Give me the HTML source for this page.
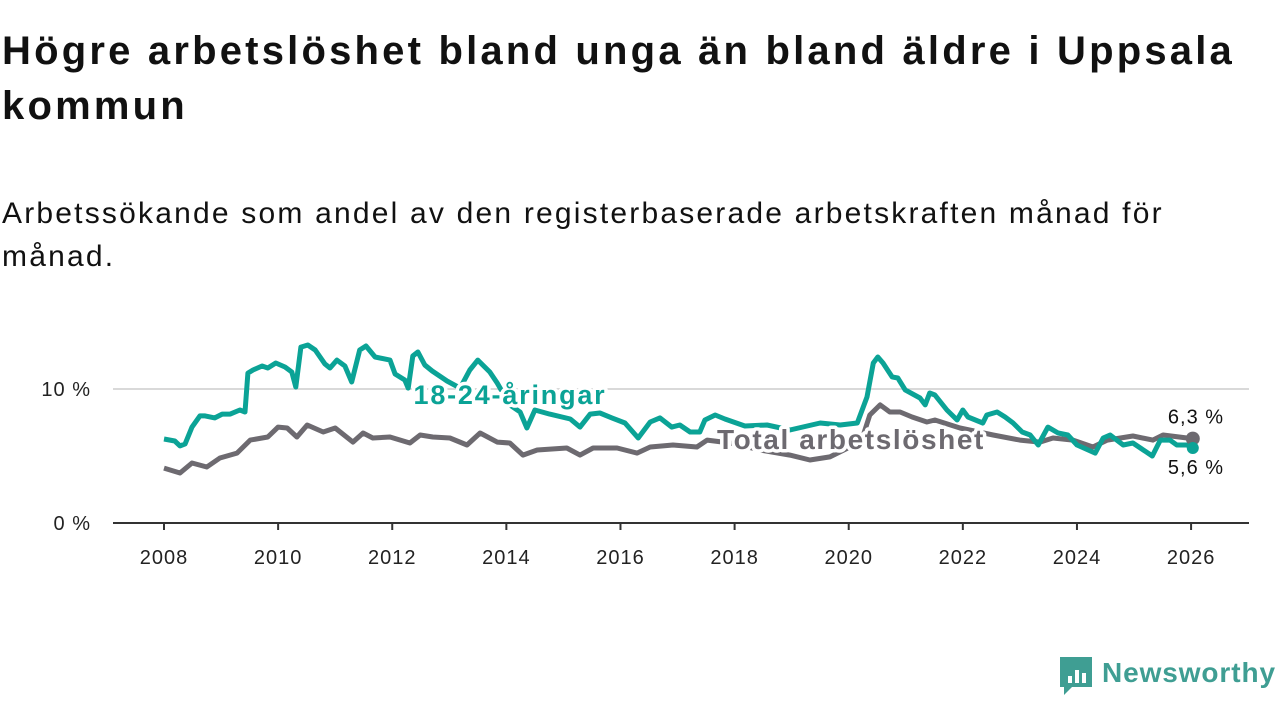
<!DOCTYPE html>
<html><head><meta charset="utf-8">
<style>
body{margin:0;background:#fff;width:1280px;height:720px;overflow:hidden;font-family:"Liberation Sans",sans-serif;color:#111;}
h1{position:absolute;left:2px;top:24px;margin:0;font-size:40px;line-height:55px;font-weight:700;width:1290px;letter-spacing:3.2px;white-space:nowrap;}
.sub{position:absolute;left:2px;top:192px;margin:0;font-size:30px;line-height:43px;width:1290px;letter-spacing:2.2px;white-space:nowrap;}
svg{position:absolute;left:0;top:0;}
</style></head><body>
<h1>Högre arbetslöshet bland unga än bland äldre i Uppsala<br>kommun</h1>
<p class="sub">Arbetssökande som andel av den registerbaserade arbetskraften månad för<br>månad.</p>
<svg id="chart" width="1280" height="720"></svg>
<script>
const youthDates=[2008.00,2008.19,2008.28,2008.37,2008.49,2008.63,2008.72,2008.89,2009.02,2009.16,2009.33,2009.42,2009.47,2009.56,2009.72,2009.82,2009.96,2010.12,2010.24,2010.31,2010.40,2010.52,2010.65,2010.82,2010.91,2011.03,2011.17,2011.29,2011.43,2011.54,2011.70,2011.96,2012.05,2012.22,2012.28,2012.36,2012.45,2012.57,2012.70,2012.96,2013.19,2013.36,2013.50,2013.71,2013.84,2014.06,2014.24,2014.36,2014.50,2014.76,2015.12,2015.29,2015.47,2015.64,2015.85,2016.08,2016.31,2016.52,2016.69,2016.90,2017.04,2017.22,2017.39,2017.48,2017.66,2017.83,2018.18,2018.57,2018.97,2019.50,2019.85,2020.15,2020.32,2020.43,2020.51,2020.60,2020.76,2020.86,2020.99,2021.25,2021.34,2021.42,2021.51,2021.72,2021.90,2022.00,2022.09,2022.35,2022.42,2022.60,2022.74,2022.88,2023.04,2023.18,2023.32,2023.49,2023.67,2023.84,2024.00,2024.32,2024.46,2024.58,2024.81,2024.98,2025.32,2025.46,2025.63,2025.75,2025.93,2026.03];
const youthValues=[6.27,6.12,5.75,5.90,7.16,7.99,7.99,7.84,8.13,8.13,8.43,8.28,11.19,11.42,11.72,11.57,11.94,11.64,11.27,10.15,13.13,13.28,12.91,11.87,11.57,12.16,11.72,10.52,12.91,13.21,12.39,12.16,11.12,10.67,10.07,12.46,12.76,11.79,11.34,10.60,10.07,11.42,12.16,11.27,10.45,8.81,8.28,7.09,8.43,8.13,7.76,7.16,8.13,8.21,7.84,7.46,6.34,7.54,7.84,7.16,7.31,6.79,6.79,7.69,8.06,7.76,7.24,7.31,6.94,7.46,7.31,7.46,9.40,11.94,12.39,11.94,10.90,10.82,9.93,9.33,8.81,9.70,9.55,8.43,7.69,8.43,7.91,7.46,8.06,8.28,7.91,7.46,6.79,6.57,5.82,7.16,6.72,6.57,5.82,5.22,6.34,6.57,5.82,5.97,5.00,6.19,6.19,5.82,5.82,5.60];
const totalDates=[2008.00,2008.28,2008.49,2008.75,2008.98,2009.28,2009.51,2009.82,2010.00,2010.16,2010.33,2010.51,2010.79,2011.00,2011.31,2011.49,2011.66,2011.96,2012.31,2012.49,2012.71,2013.01,2013.31,2013.54,2013.84,2014.06,2014.29,2014.54,2015.06,2015.29,2015.52,2015.94,2016.29,2016.52,2016.92,2017.34,2017.52,2017.92,2018.45,2018.97,2019.32,2019.67,2020.02,2020.20,2020.37,2020.55,2020.72,2020.90,2021.11,2021.37,2021.51,2021.95,2022.53,2023.00,2023.35,2023.58,2023.93,2024.28,2024.53,2024.98,2025.33,2025.51,2025.93,2026.03];
const totalValues=[4.10,3.73,4.48,4.18,4.85,5.22,6.19,6.42,7.16,7.09,6.42,7.31,6.79,7.09,6.04,6.72,6.34,6.42,5.97,6.57,6.42,6.34,5.82,6.72,6.04,5.97,5.07,5.45,5.60,5.07,5.60,5.60,5.22,5.67,5.82,5.67,6.19,5.97,5.45,5.07,4.70,4.93,5.67,5.82,8.06,8.81,8.28,8.28,7.91,7.54,7.69,7.09,6.57,6.19,6.04,6.34,6.19,5.67,6.19,6.49,6.19,6.57,6.34,6.30];
const xTicks=[2008,2010,2012,2014,2016,2018,2020,2022,2024,2026];
const yTicks=[0,10];
const yTickLabels=["0 %","10 %"];

const NS="http://www.w3.org/2000/svg";
const svg=document.getElementById('chart');
const X=t=>164+(t-2008)*57.06;
const Y=v=>523-v*13.4;
function mk(tag,attrs,parent){const e=document.createElementNS(NS,tag);for(const k in attrs)e.setAttribute(k,attrs[k]);(parent||svg).appendChild(e);return e;}

yTicks.forEach((v,i)=>{
  if(v>0){const g=mk('line',{x1:113,x2:1249,y1:Y(v),y2:Y(v),stroke:'#d9d9d9','stroke-width':2});
  
  }
  const t=mk('text',{x:91,y:Y(v)+7,'text-anchor':'end','font-size':20,'letter-spacing':1,fill:'#222','font-family':'Liberation Sans, sans-serif'});
  t.textContent=yTickLabels[i];
  
  
});
const ax=mk('line',{x1:113,x2:1249,y1:523,y2:523,stroke:'#333','stroke-width':2});


xTicks.forEach(yr=>{
  mk('line',{x1:X(yr),x2:X(yr),y1:523,y2:530,stroke:'#333','stroke-width':2});
  const t=mk('text',{x:X(yr),y:564,'text-anchor':'middle','font-size':20,'letter-spacing':1,fill:'#222','font-family':'Liberation Sans, sans-serif'});
  t.textContent=yr;
  
  
});
function pathOf(d,v){return d.map((t,i)=>(i?'L':'M')+X(t).toFixed(1)+','+Y(v[i]).toFixed(1)).join('');}
const pt=mk('path',{d:pathOf(totalDates,totalValues),fill:'none',stroke:'#6d6a70','stroke-width':5,'stroke-linejoin':'round'});


const py=mk('path',{d:pathOf(youthDates,youthValues),fill:'none',stroke:'#0ba396','stroke-width':5,'stroke-linejoin':'round'});


const l1=mk('text',{x:510,y:404,'text-anchor':'middle','font-size':27,'letter-spacing':1.8,'font-weight':700,fill:'#0ba396',stroke:'#fff','stroke-width':7,'paint-order':'stroke','stroke-linejoin':'round','font-family':'Liberation Sans, sans-serif'});
l1.textContent='18-24-åringar';


const l2=mk('text',{x:851,y:449,'text-anchor':'middle','font-size':28,'letter-spacing':1.6,'font-weight':700,fill:'#6d6a70',stroke:'#fff','stroke-width':7,'paint-order':'stroke','stroke-linejoin':'round','font-family':'Liberation Sans, sans-serif'});
l2.textContent='Total arbetslöshet';


const lt=totalDates.length-1, ly=youthDates.length-1;
const d1=mk('circle',{cx:X(totalDates[lt]),cy:Y(totalValues[lt]),r:7,fill:'#6d6a70'});


const d2=mk('circle',{cx:X(youthDates[ly]),cy:Y(youthValues[ly]),r:6,fill:'#0ba396'});


const e1=mk('text',{x:1196,y:Y(totalValues[lt])-15,'text-anchor':'middle','font-size':20,'letter-spacing':1,fill:'#111','font-family':'Liberation Sans, sans-serif'});
e1.textContent=totalValues[lt].toFixed(1).replace('.',',')+' %';


const e2=mk('text',{x:1196,y:Y(youthValues[ly])+26,'text-anchor':'middle','font-size':20,'letter-spacing':1,fill:'#111','font-family':'Liberation Sans, sans-serif'});
e2.textContent=youthValues[ly].toFixed(1).replace('.',',')+' %';


const lg=mk('g',{});


mk('path',{d:'M1060,657 h32 v30 h-20 l-8,8 v-8 h-4 z',fill:'#3f9e93'},lg);
mk('rect',{x:1068,y:676,width:4,height:7,fill:'#fff'},lg);
mk('rect',{x:1075,y:670,width:4,height:13,fill:'#fff'},lg);
mk('rect',{x:1082,y:673,width:4,height:10,fill:'#fff'},lg);
const lt2=mk('text',{x:1102,y:682,'font-size':28,'letter-spacing':0.9,'font-weight':700,fill:'#3f9e93','font-family':'Liberation Sans, sans-serif'},lg);
lt2.textContent='Newsworthy';
</script>
</body></html>
